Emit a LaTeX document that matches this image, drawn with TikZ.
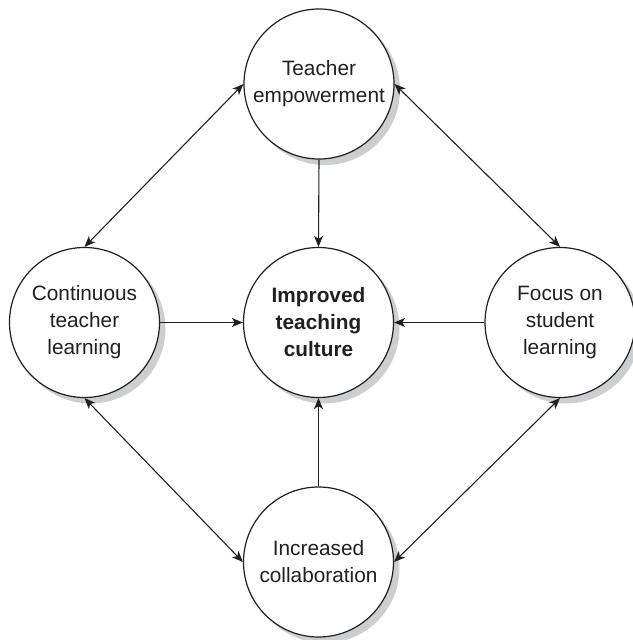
\documentclass[tikz,border=0pt]{standalone}
\usepackage{fontspec}
\setmainfont{Liberation Sans}
\usetikzlibrary{arrows.meta,shadows}
\definecolor{shade}{RGB}{205,206,208}
\definecolor{ink}{RGB}{35,31,32}
\begin{document}
\begin{tikzpicture}[x=1pt,y=-1pt,
  bubble/.style={circle, draw=ink, line width=1.2pt, fill=white,
    minimum size=150pt, inner sep=0pt, align=center, text=ink,
    font=\fontsize{20.8}{27}\selectfont,
    drop shadow={shadow xshift=6pt, shadow yshift=-6pt, fill=shade, opacity=1}},
  tip/.tip={Stealth[length=11pt,width=9pt,inset=3pt]},
  link/.style={draw=ink, line width=1.1pt, -tip},
  twoway/.style={draw=ink, line width=1.1pt, tip-tip}]
\useasboundingbox (0,0) rectangle (632,640);

% circles
\node[bubble] (top)    at (319,84)    {Teacher\\empowerment};
\node[bubble] (centre) at (318.5,322.5) {\bfseries Improved\\\bfseries teaching\\\bfseries culture};
\node[bubble] (left)   at (84.5,322.5) {Continuous\\teacher\\learning};
\node[bubble] (right)  at (560,322.5)  {Focus on\\student\\learning};
\node[bubble] (bottom) at (318.5,562)  {Increased\\collaboration};

% influences on the centre
\draw[link] (top.south)    -- (centre.north);
\draw[link] (left.east)    -- (centre.west);
\draw[link] (right.west)   -- (centre.east);
\draw[link] (bottom.north) -- (centre.south);

% mutual links around the ring
\draw[twoway] (left.north)  -- (top.west);
\draw[twoway] (top.east)    -- (right.north);
\draw[twoway] (right.south) -- (bottom.east);
\draw[twoway] (bottom.west) -- (left.south);
\end{tikzpicture}
\end{document}
